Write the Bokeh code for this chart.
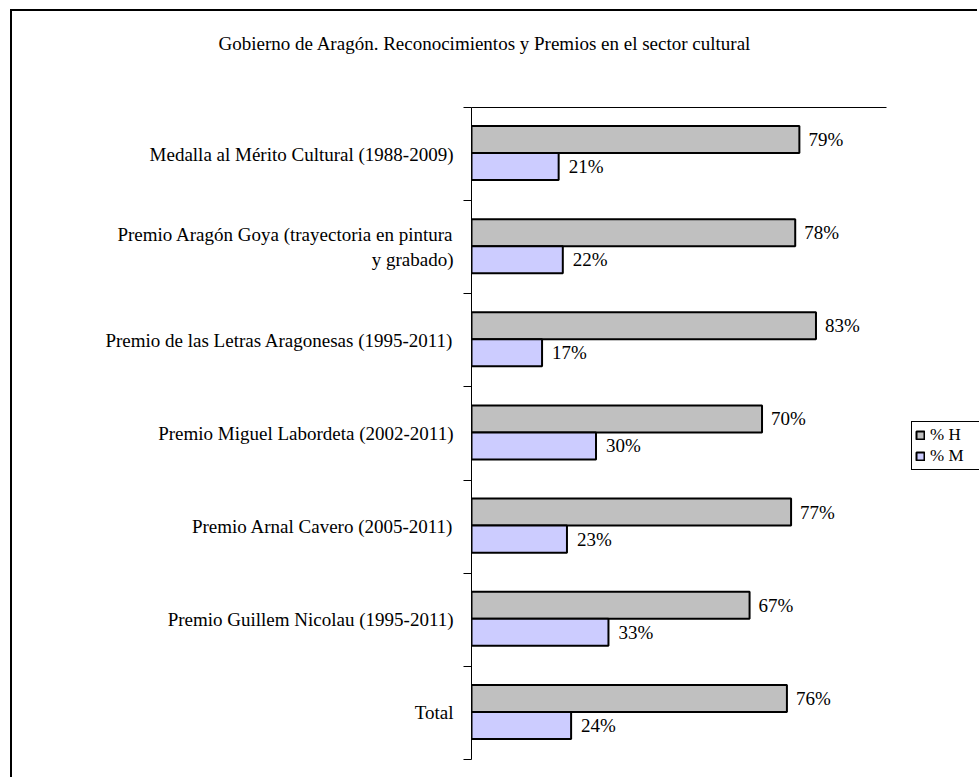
from bokeh.plotting import figure
from bokeh.models import (ColumnDataSource, Range1d, FixedTicker, LinearAxis,
                          Legend, LegendItem, Title)
from bokeh.core.properties import value
from bokeh.embed import file_html
from bokeh.resources import INLINE

# ---- data -------------------------------------------------------------
categories = [
    "Medalla al Mérito Cultural (1988-2009)",
    "Premio Aragón Goya (trayectoria en pintura\ny grabado)",
    "Premio de las Letras Aragonesas (1995-2011)",
    "Premio Miguel Labordeta (2002-2011)",
    "Premio Arnal Cavero (2005-2011)",
    "Premio Guillem Nicolau (1995-2011)",
    "Total",
]
pct_h = [79, 78, 83, 70, 77, 67, 76]
pct_m = [21, 22, 17, 30, 23, 33, 24]
series_names = ["% H", "% M"]
title_text = "Gobierno de Aragón. Reconocimientos y Premios en el sector cultural"

FONT = "Liberation Serif"
n = len(categories)
centers = [n - i - 0.5 for i in range(n)]
dodge_h = 0.156
dodge_m = 0.134
bar_h = 0.29

src = ColumnDataSource(dict(
    yc=centers,
    yh=[c + dodge_h for c in centers],
    ym=[c - dodge_m for c in centers],
    h=pct_h,
    m=pct_m,
    h_lbl=[f"{v}%" for v in pct_h],
    m_lbl=[f"{v}%" for v in pct_m],
))

W, H = 967, 768
# plot area spans to the right edge; value axis 0-100 occupies its left part
p = figure(width=W, height=H, output_backend="svg", toolbar_location=None,
           x_range=Range1d(0, 122.4), y_range=Range1d(0, n),
           x_axis_location=None, y_axis_location=None,
           min_border_left=459, min_border_right=0,
           min_border_top=96, min_border_bottom=20)
p.margin = (9, 0, 0, 10)
p.outline_line_color = None
p.grid.visible = False
p.background_fill_color = "white"
p.border_fill_color = "white"
p.styles = {"border-left": "2px solid black", "border-top": "2px solid black"}

# title
p.title = Title(text=title_text, align="left", offset=-253,
                text_font=FONT, text_font_size="19px", text_font_style="normal",
                text_color="black", vertical_align="top", standoff=10)

# left category axis (labels at centres, ticks between categories)
yaxis = LinearAxis(ticker=FixedTicker(ticks=centers,
                                      minor_ticks=list(range(n + 1))))
yaxis.major_label_overrides = {c: lab for c, lab in zip(centers, categories)}
yaxis.major_tick_line_color = None
yaxis.major_tick_in = 0
yaxis.major_tick_out = 0
yaxis.minor_tick_line_color = "black"
yaxis.minor_tick_in = 0
yaxis.minor_tick_out = 8
yaxis.axis_line_color = "black"
yaxis.axis_line_width = 1
yaxis.major_label_text_font = FONT
yaxis.major_label_text_font_size = "19px"
yaxis.major_label_text_color = "black"
yaxis.major_label_standoff = 10
p.add_layout(yaxis, "left")

# top line (value axis 0-100 without ticks/labels)
xaxis = LinearAxis(ticker=FixedTicker(ticks=[]), bounds=(0, 100))
xaxis.major_tick_line_color = None
xaxis.minor_tick_line_color = None
xaxis.axis_line_color = "black"
p.add_layout(xaxis, "above")

# spacer between the top line and the title
p.add_layout(Title(text=" ", text_font_size="10px", standoff=34), "above")

rh = p.hbar(y="yh", right="h", left=0, height=bar_h, source=src,
            fill_color="#C0C0C0", line_color="black", line_width=2)
rm = p.hbar(y="ym", right="m", left=0, height=bar_h, source=src,
            fill_color="#CCCCFF", line_color="black", line_width=2)

p.text(x="h", y="yh", text="h_lbl", source=src, x_offset=9,
       text_baseline="middle", text_align="left",
       text_font=value(FONT), text_font_size="19px", text_color="black")
p.text(x="m", y="ym", text="m_lbl", source=src, x_offset=10,
       text_baseline="middle", text_align="left",
       text_font=value(FONT), text_font_size="19px", text_color="black")

legend = Legend(items=[LegendItem(label=series_names[0], renderers=[rh]),
                       LegendItem(label=series_names[1], renderers=[rm])],
                location=(440, 289))
legend.label_text_font = FONT
legend.label_text_font_size = "17px"
legend.label_text_color = "black"
legend.label_width = 60
legend.glyph_width = 10
legend.glyph_height = 10
legend.label_standoff = 5
legend.spacing = 1
legend.padding = 3
legend.margin = 0
legend.border_line_color = "black"
legend.border_line_alpha = 1.0
legend.border_line_width = 1
legend.background_fill_color = "white"
legend.background_fill_alpha = 1.0
p.add_layout(legend, "center")

open("out.html", "w").write(file_html(p, INLINE))
